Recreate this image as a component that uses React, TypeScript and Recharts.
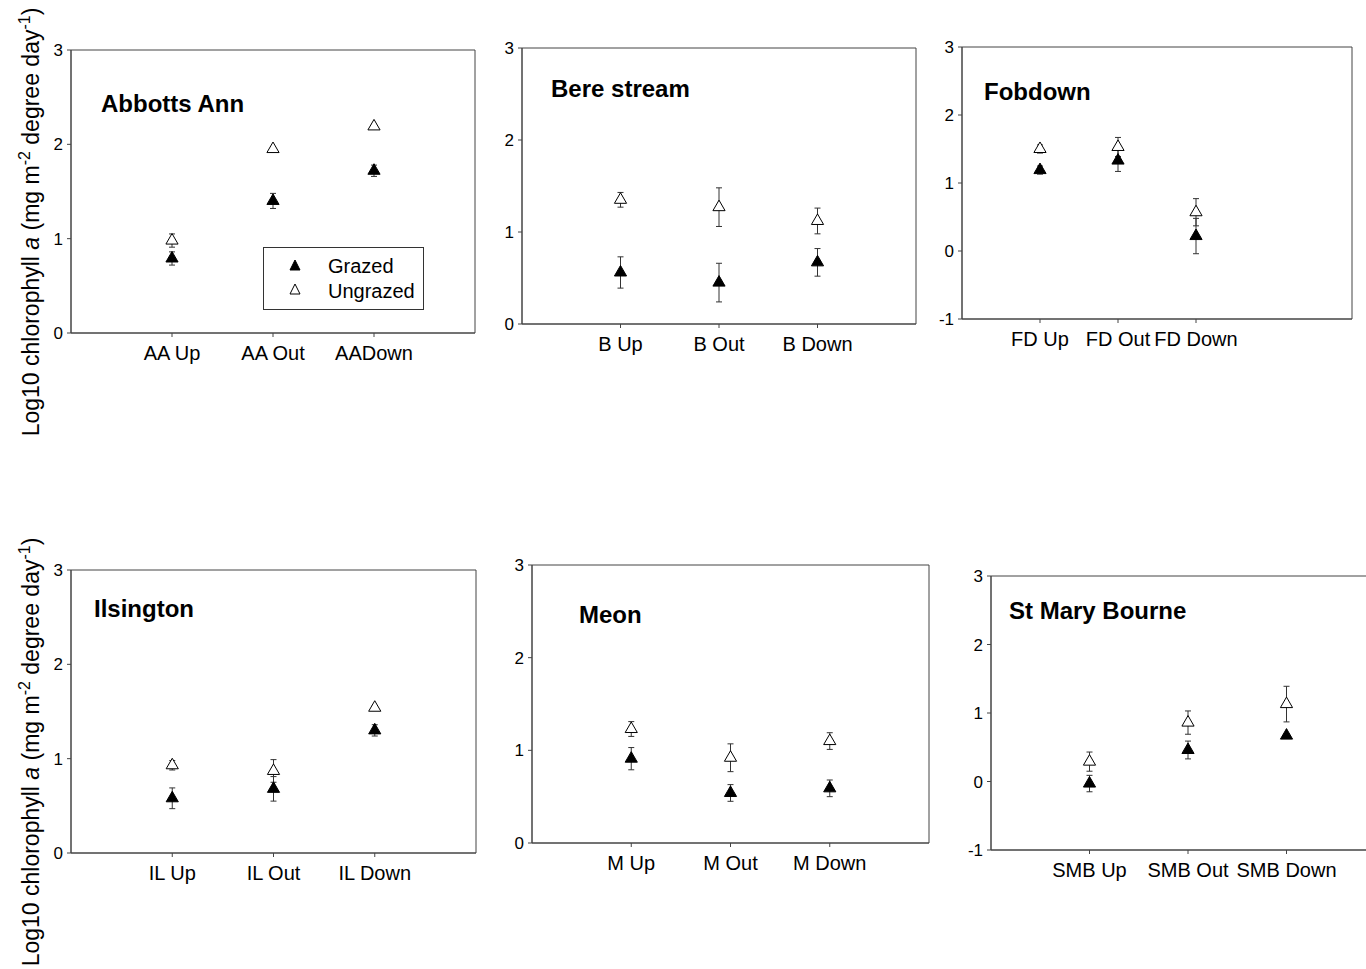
import { ErrorBar, ReferenceArea, Scatter, ScatterChart, XAxis, YAxis } from "recharts";

// Abbotts Ann
const aaSites = ["AA Up", "AA Out", "AADown"];
const aaGrazed = [0.79, 1.4, 1.72];
const aaGrazedErr = [0.07, 0.08, 0.06];
const aaUngrazed = [0.98, 1.95, 2.19];
const aaUngrazedErr = [0.07, 0.02, 0.02];

// Bere stream
const bSites = ["B Up", "B Out", "B Down"];
const bGrazed = [0.56, 0.45, 0.67];
const bGrazedErr = [0.17, 0.21, 0.15];
const bUngrazed = [1.35, 1.27, 1.12];
const bUngrazedErr = [0.08, 0.21, 0.14];

// Fobdown
const fdSites = ["FD Up", "FD Out", "FD Down"];
const fdGrazed = [1.19, 1.33, 0.22];
const fdGrazedErr = [0.06, 0.16, 0.26];
const fdUngrazed = [1.5, 1.53, 0.57];
const fdUngrazedErr = [0.06, 0.14, 0.2];

// Ilsington
const ilSites = ["IL Up", "IL Out", "IL Down"];
const ilGrazed = [0.58, 0.68, 1.3];
const ilGrazedErr = [0.11, 0.13, 0.06];
const ilUngrazed = [0.93, 0.87, 1.54];
const ilUngrazedErr = [0.05, 0.12, 0.02];

// Meon
const mSites = ["M Up", "M Out", "M Down"];
const mGrazed = [0.91, 0.54, 0.59];
const mGrazedErr = [0.12, 0.09, 0.09];
const mUngrazed = [1.23, 0.92, 1.1];
const mUngrazedErr = [0.08, 0.15, 0.09];

// St Mary Bourne
const smbSites = ["SMB Up", "SMB Out", "SMB Down"];
const smbGrazed = [-0.03, 0.46, 0.67];
const smbGrazedErr = [0.12, 0.13, 0.02];
const smbUngrazed = [0.29, 0.86, 1.13];
const smbUngrazedErr = [0.14, 0.17, 0.26];

const yTicks03 = [0, 1, 2, 3];
const yTicksM13 = [-1, 0, 1, 2, 3];

const FONT = "'Liberation Sans', Arial, sans-serif";
const AXIS = "#444";

type Frame = { left: number; top: number; right: number; bottom: number };

const padL = 45;
const padT = 10;
const padR = 10;
const padB = 45;

function Panel({
  frame,
  sites,
  grazed,
  grazedErr,
  ungrazed,
  ungrazedErr,
  yDomain,
  yTicks,
  xMax,
}: {
  frame: Frame;
  sites: string[];
  grazed: number[];
  grazedErr: number[];
  ungrazed: number[];
  ungrazedErr: number[];
  yDomain: [number, number];
  yTicks: number[];
  xMax: number;
}) {
  const width = frame.right - frame.left + padL + padR;
  const height = frame.bottom - frame.top + padT + padB;
  const grazedPts = sites.map((_, i) => ({ x: i + 1, y: grazed[i], err: grazedErr[i] }));
  const ungrazedPts = sites.map((_, i) => ({ x: i + 1, y: ungrazed[i], err: ungrazedErr[i] }));

  return (
    <div style={{ position: "absolute", left: frame.left - padL, top: frame.top - padT }}>
      <ScatterChart width={width} height={height} margin={{ top: padT, right: padR, left: 0, bottom: 0 }}>
        <XAxis
          type="number"
          dataKey="x"
          domain={[0, xMax]}
          ticks={[1, 2, 3]}
          interval={0}
          allowDataOverflow
          tickFormatter={(v) => sites[v - 1]}
          tick={{ fontSize: 20, fill: "#000", fontFamily: FONT }}
          tickSize={4}
          tickMargin={9}
          axisLine={{ stroke: AXIS }}
          tickLine={{ stroke: AXIS }}
          height={padB}
        />
        <YAxis
          type="number"
          dataKey="y"
          domain={yDomain}
          ticks={yTicks}
          interval={0}
          allowDataOverflow
          tick={{ fontSize: 17, fill: "#000", fontFamily: FONT }}
          tickSize={4}
          tickMargin={4}
          axisLine={{ stroke: AXIS }}
          tickLine={{ stroke: AXIS }}
          width={padL}
        />
        <ReferenceArea
          x1={0}
          x2={xMax}
          y1={yDomain[0]}
          y2={yDomain[1]}
          fill="none"
          stroke={AXIS}
          strokeWidth={1}
          ifOverflow="visible"
        />
        <Scatter data={ungrazedPts} shape="triangle" fill="#fff" stroke="#000" strokeWidth={1} isAnimationActive={false}>
          <ErrorBar dataKey="err" direction="y" width={3} stroke="#333" strokeWidth={1} />
        </Scatter>
        <Scatter data={grazedPts} shape="triangle" fill="#000" stroke="#000" isAnimationActive={false}>
          <ErrorBar dataKey="err" direction="y" width={3} stroke="#333" strokeWidth={1} />
        </Scatter>
      </ScatterChart>
    </div>
  );
}

function YLabel({ x, y }: { x: number; y: number }) {
  return (
    <text
      transform={`translate(${x},${y}) rotate(-90)`}
      textAnchor="middle"
      fontFamily={FONT}
      fontSize={23}
      fill="#000"
    >
      Log10 chlorophyll <tspan fontStyle="italic">a</tspan> (mg m
      <tspan fontSize={16} dy={-9}>
        -2
      </tspan>
      <tspan dy={9}> degree day</tspan>
      <tspan fontSize={16} dy={-9}>
        -1
      </tspan>
      <tspan dy={9}>)</tspan>
    </text>
  );
}

const titleStyle = { fontFamily: FONT, fontSize: 24, fontWeight: 700, fill: "#000" } as const;

export default function App() {
  return (
    <div
      style={{
        position: "absolute",
        left: 0,
        top: 0,
        width: 1366,
        height: 969,
        overflow: "hidden",
        background: "#fff",
      }}
    >
      <Panel
        frame={{ left: 71, top: 50, right: 475, bottom: 333 }}
        sites={aaSites}
        grazed={aaGrazed}
        grazedErr={aaGrazedErr}
        ungrazed={aaUngrazed}
        ungrazedErr={aaUngrazedErr}
        yDomain={[0, 3]}
        yTicks={yTicks03}
        xMax={4}
      />
      <Panel
        frame={{ left: 522, top: 48, right: 916, bottom: 324 }}
        sites={bSites}
        grazed={bGrazed}
        grazedErr={bGrazedErr}
        ungrazed={bUngrazed}
        ungrazedErr={bUngrazedErr}
        yDomain={[0, 3]}
        yTicks={yTicks03}
        xMax={4}
      />
      <Panel
        frame={{ left: 962, top: 47, right: 1352, bottom: 319 }}
        sites={fdSites}
        grazed={fdGrazed}
        grazedErr={fdGrazedErr}
        ungrazed={fdUngrazed}
        ungrazedErr={fdUngrazedErr}
        yDomain={[-1, 3]}
        yTicks={yTicksM13}
        xMax={5}
      />
      <Panel
        frame={{ left: 71, top: 570, right: 476, bottom: 853 }}
        sites={ilSites}
        grazed={ilGrazed}
        grazedErr={ilGrazedErr}
        ungrazed={ilUngrazed}
        ungrazedErr={ilUngrazedErr}
        yDomain={[0, 3]}
        yTicks={yTicks03}
        xMax={4}
      />
      <Panel
        frame={{ left: 532, top: 565, right: 929, bottom: 843 }}
        sites={mSites}
        grazed={mGrazed}
        grazedErr={mGrazedErr}
        ungrazed={mUngrazed}
        ungrazedErr={mUngrazedErr}
        yDomain={[0, 3]}
        yTicks={yTicks03}
        xMax={4}
      />
      <Panel
        frame={{ left: 991, top: 576, right: 1385, bottom: 850 }}
        sites={smbSites}
        grazed={smbGrazed}
        grazedErr={smbGrazedErr}
        ungrazed={smbUngrazed}
        ungrazedErr={smbUngrazedErr}
        yDomain={[-1, 3]}
        yTicks={yTicksM13}
        xMax={4}
      />

      <svg
        width={1366}
        height={969}
        style={{ position: "absolute", left: 0, top: 0, pointerEvents: "none" }}
      >
        <YLabel x={39} y={222} />
        <YLabel x={39} y={752} />

        <text x={101} y={112} {...titleStyle}>Abbotts Ann</text>
        <text x={551} y={97} {...titleStyle}>Bere stream</text>
        <text x={984} y={100} {...titleStyle}>Fobdown</text>
        <text x={94} y={617} {...titleStyle}>Ilsington</text>
        <text x={579} y={623} {...titleStyle}>Meon</text>
        <text x={1009} y={619} {...titleStyle}>St Mary Bourne</text>

        <rect x={263.5} y={247.5} width={160} height={62} fill="#fff" stroke="#333" strokeWidth={1} />
        <path d="M295,260 L300,270 L290,270 Z" fill="#000" stroke="#000" />
        <text x={328} y={273} fontFamily={FONT} fontSize={20} fill="#000">Grazed</text>
        <path d="M295,284 L300,294 L290,294 Z" fill="#fff" stroke="#000" />
        <text x={328} y={298} fontFamily={FONT} fontSize={20} fill="#000">Ungrazed</text>
      </svg>
    </div>
  );
}
